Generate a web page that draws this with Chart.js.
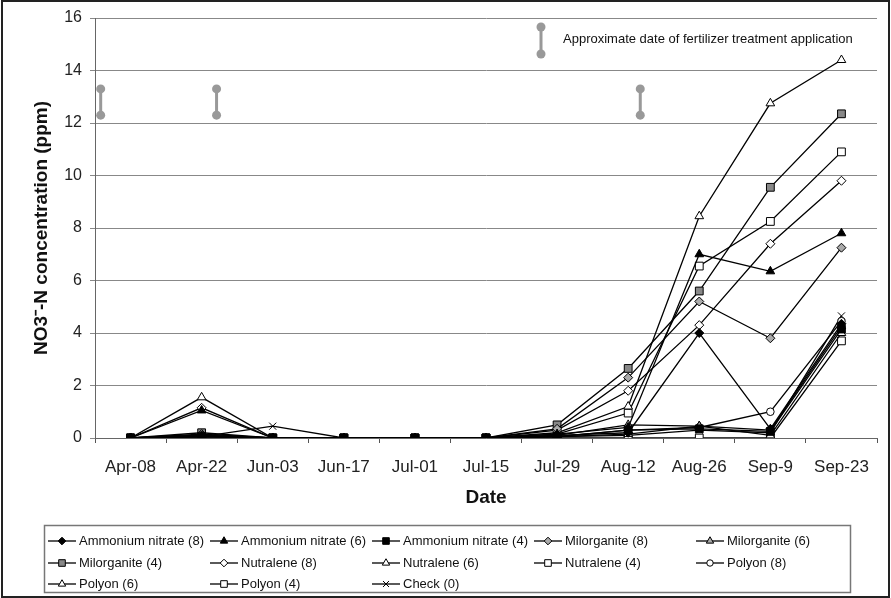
<!DOCTYPE html>
<html>
<head>
<meta charset="utf-8">
<script src="https://cdn.jsdelivr.net/npm/chart.js@4/dist/chart.umd.min.js"></script>
<style>
  html, body { margin: 0; padding: 0; background: #fff; }
  #wrap { width: 891px; height: 598px; }
</style>
</head>
<body>
<div id="wrap"><canvas id="chart" width="891" height="598"></canvas></div>
<script>
// Sampling dates
const dates = ['Apr-08', 'Apr-22', 'Jun-03', 'Jun-17', 'Jul-01', 'Jul-15', 'Jul-29', 'Aug-12', 'Aug-26', 'Sep-9', 'Sep-23'];

// NO3--N concentration (ppm) per treatment and rate
const ammoniumNitrate8 = [0, 0.10, 0, 0, 0, 0, 0.10, 0.20, 4.00, 0.35, 4.35];
const ammoniumNitrate6 = [0, 1.05, 0, 0, 0, 0, 0.15, 0.40, 7.00, 6.35, 7.80];
const ammoniumNitrate4 = [0, 0.05, 0, 0, 0, 0, 0.05, 0.30, 0.35, 0.25, 4.15];
const milorganite8     = [0, 0.15, 0, 0, 0, 0, 0.35, 2.30, 5.20, 3.80, 7.25];
const milorganite6     = [0, 0.10, 0, 0, 0, 0, 0.10, 0.50, 0.45, 0.30, 4.25];
const milorganite4     = [0, 0.20, 0, 0, 0, 0, 0.50, 2.65, 5.60, 9.55, 12.35];
const nutralene8       = [0, 1.15, 0, 0, 0, 0, 0.30, 1.80, 4.30, 7.40, 9.80];
const nutralene6       = [0, 1.55, 0, 0, 0, 0, 0.20, 1.20, 8.45, 12.75, 14.40];
const nutralene4       = [0, 0.05, 0, 0, 0, 0, 0.15, 0.95, 6.55, 8.25, 10.90];
const polyon8          = [0, 0.05, 0, 0, 0, 0, 0.05, 0.30, 0.40, 1.00, 4.45];
const polyon6          = [0, 0.10, 0, 0, 0, 0, 0.05, 0.15, 0.45, 0.10, 4.00];
const polyon4          = [0, 0, 0, 0, 0, 0, 0, 0, 0, 0, 3.70];
const check0           = [0, 0.05, 0.45, 0, 0, 0, 0.05, 0.10, 0.30, 0.20, 4.65];

const seriesNames = [
  'Ammonium nitrate (8)', 'Ammonium nitrate (6)', 'Ammonium nitrate (4)',
  'Milorganite (8)', 'Milorganite (6)', 'Milorganite (4)',
  'Nutralene (8)', 'Nutralene (6)', 'Nutralene (4)',
  'Polyon (8)', 'Polyon (6)', 'Polyon (4)', 'Check (0)'
];
const seriesValues = [
  ammoniumNitrate8, ammoniumNitrate6, ammoniumNitrate4,
  milorganite8, milorganite6, milorganite4,
  nutralene8, nutralene6, nutralene4,
  polyon8, polyon6, polyon4, check0
];

// Fertilizer application dates, as positions along the date axis, and the bar span
const applicationPositions = [-0.42, 1.21, 7.17];
const applicationSpan = [12.3, 13.3];

const yTickMax = 16;
const yTickStep = 2;

// Marker look for each series
const markerStyles = [
  { shape: 'rectRot',  fill: '#000', r: 4.5 },
  { shape: 'triangle', fill: '#000', r: 5 },
  { shape: 'rect',     fill: '#000', r: 5.5 },
  { shape: 'rectRot',  fill: '#aaa', r: 4.5 },
  { shape: 'triangle', fill: '#aaa', r: 5 },
  { shape: 'rect',     fill: '#888', r: 5.5 },
  { shape: 'rectRot',  fill: '#fff', r: 4.5 },
  { shape: 'triangle', fill: '#fff', r: 5 },
  { shape: 'rect',     fill: '#fff', r: 5.5 },
  { shape: 'circle',   fill: '#fff', r: 3.8 },
  { shape: 'triangle', fill: '#fff', r: 5 },
  { shape: 'rect',     fill: '#fff', r: 5.5 },
  { shape: 'crossRot', fill: '#000', r: 5 }
];

const FONT = '"Liberation Sans", Arial, Helvetica, sans-serif';
Chart.defaults.font.family = FONT;

const datasets = seriesValues.map((vals, i) => ({
  label: seriesNames[i],
  data: vals,
  xAxisID: 'x',
  borderColor: '#000',
  borderWidth: 1.3,
  pointStyle: markerStyles[i].shape,
  pointRadius: markerStyles[i].r,
  pointBackgroundColor: markerStyles[i].fill,
  pointBorderColor: '#000',
  pointBorderWidth: 1,
  tension: 0,
  fill: false
}));

// Application markers: short vertical bars with round ends
const applicationData = [];
applicationPositions.forEach(p => {
  applicationData.push({ x: p, y: applicationSpan[0] });
  applicationData.push({ x: p, y: applicationSpan[1] });
  applicationData.push({ x: p, y: null });
});
datasets.push({
  label: 'Application',
  data: applicationData,
  xAxisID: 'xApp',
  borderColor: '#999',
  borderWidth: 3,
  pointStyle: 'circle',
  pointRadius: 4.5,
  pointBackgroundColor: '#999',
  pointBorderColor: '#999',
  pointBorderWidth: 0,
  spanGaps: false,
  fill: false
});

const legendCols = [48, 210, 372, 534, 696];
const legendRows = [541, 563, 584];

const decor = {
  id: 'decor',
  beforeDraw(chart) {
    const ctx = chart.ctx;
    ctx.save();
    ctx.fillStyle = '#fff';
    ctx.fillRect(0, 0, chart.width, chart.height);
    ctx.restore();
  },
  afterDraw(chart) {
    const ctx = chart.ctx;
    const area = chart.chartArea;
    ctx.save();

    // key for the application bars
    const kx = area.left + 446, ky1 = area.top + 9, ky2 = area.top + 36;
    ctx.strokeStyle = '#999'; ctx.lineWidth = 3;
    ctx.beginPath(); ctx.moveTo(kx, ky1); ctx.lineTo(kx, ky2); ctx.stroke();
    ctx.fillStyle = '#999';
    [ky1, ky2].forEach(y => { ctx.beginPath(); ctx.arc(kx, y, 4.5, 0, Math.PI * 2); ctx.fill(); });
    ctx.fillStyle = '#111';
    ctx.font = '13px ' + FONT;
    ctx.textBaseline = 'middle';
    ctx.textAlign = 'left';
    ctx.fillText('Approximate date of fertilizer treatment application', kx + 22, area.top + 21);

    // series legend
    ctx.strokeStyle = '#777'; ctx.lineWidth = 1.5;
    ctx.strokeRect(44.5, 525.5, 806, 67);
    chart.data.datasets.slice(0, seriesNames.length).forEach((ds, i) => {
      const x = legendCols[i % 5], y = legendRows[Math.floor(i / 5)];
      ctx.strokeStyle = '#000'; ctx.lineWidth = 1.3;
      ctx.beginPath(); ctx.moveTo(x, y); ctx.lineTo(x + 28, y); ctx.stroke();
      ctx.fillStyle = ds.pointBackgroundColor;
      ctx.strokeStyle = '#000'; ctx.lineWidth = 1;
      Chart.helpers.drawPoint(ctx, { pointStyle: ds.pointStyle, radius: ds.pointRadius * 0.85, borderWidth: 1, rotation: 0 }, x + 14, y);
      ctx.fillStyle = '#111';
      ctx.font = '13px ' + FONT;
      ctx.fillText(ds.label, x + 31, y);
    });

    // outer frame
    ctx.strokeStyle = '#222'; ctx.lineWidth = 2;
    ctx.strokeRect(2, 1, 887, 596);
    ctx.restore();
  }
};

new Chart(document.getElementById('chart'), {
  type: 'line',
  data: { labels: dates, datasets },
  options: {
    responsive: false,
    animation: false,
    devicePixelRatio: 1,
    layout: { padding: { top: 18, right: 14, bottom: 80, left: 0 } },
    plugins: { legend: { display: false }, tooltip: { enabled: false } },
    scales: {
      x: {
        type: 'category',
        offset: true,
        afterFit: s => { s.height = 80; },
        grid: { offset: true, drawOnChartArea: false, drawTicks: true, tickLength: 5, color: '#555' },
        border: { color: '#666', width: 1 },
        ticks: { autoSkip: false, maxRotation: 0, padding: 14, color: '#222', font: { size: 17 } },
        title: { display: true, text: 'Date', color: '#111', font: { size: 19, weight: 'bold' }, padding: { top: 0, bottom: 9 } }
      },
      xApp: {
        type: 'linear',
        display: false,
        min: -0.5,
        max: dates.length - 0.5
      },
      y: {
        min: 0,
        max: yTickMax,
        afterFit: s => { s.width = 95; },
        ticks: { stepSize: yTickStep, padding: 8, color: '#222', font: { size: 16 } },
        grid: { color: '#888', lineWidth: 1, tickLength: 5 },
        border: { color: '#666', width: 1 },
        title: { display: true, text: 'NO3\u207B-N concentration (ppm)', color: '#111', font: { size: 19, weight: 'bold' }, padding: { top: 30, bottom: 0 } }
      }
    }
  },
  plugins: [decor]
});
</script>
</body>
</html>
